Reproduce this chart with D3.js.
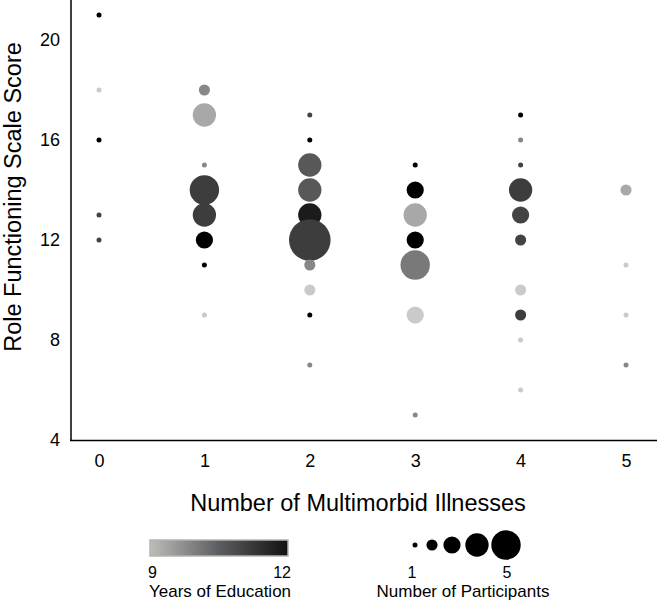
<!DOCTYPE html>
<html>
<head>
<meta charset="utf-8">
<script src="https://cdn.jsdelivr.net/npm/d3@7"></script>
<style>
  body { margin: 0; background: #fff; }
  text { font-family: "Liberation Sans", Arial, sans-serif; fill: #000; }
</style>
</head>
<body>
<script>
var width = 657,
  height = 602;

// one entry per bubble, drawn from high score to low score
const illnesses = [0, 0, 0, 0, 0,
  1, 1, 1, 1, 1, 1, 1, 1,
  2, 2, 2, 2, 2, 2, 2, 2, 2, 2,
  3, 3, 3, 3, 3, 3, 3,
  4, 4, 4, 4, 4, 4, 4, 4, 4, 4,
  5, 5, 5, 5];
const scores = [21, 18, 16, 13, 12,
  18, 17, 15, 14, 13, 12, 11, 9,
  17, 16, 15, 14, 13, 12, 11, 10, 9, 7,
  15, 14, 13, 12, 11, 9, 5,
  17, 16, 15, 14, 13, 12, 10, 9, 8, 6,
  14, 11, 9, 7];
const participants = [1, 1, 1, 1, 1,
  2, 4, 1, 5, 4, 3, 1, 1,
  1, 1, 4, 4, 4, 7, 2, 2, 1, 1,
  1, 3, 4, 3, 5, 3, 1,
  1, 1, 1, 4, 3, 2, 2, 2, 1, 1,
  2, 1, 1, 1];
const education = [12, 9, 12, 11, 11,
  10, 9.5, 10, 11.1, 11.1, 12, 12, 9,
  11, 12, 10.7, 10.7, 11.6, 11.1, 10, 9, 12, 10,
  12, 12, 9.5, 12, 10.2, 9, 10,
  12, 10, 11, 11.1, 11, 11, 9, 11.1, 9, 9,
  9.5, 9, 9, 10];

const xTicks = [0, 1, 2, 3, 4, 5];
const yTicks = [4, 8, 12, 16, 20];
const sizeLegend = [1, 2, 3, 4, 5];

const svg = d3
  .select("body")
  .append("svg")
  .attr("width", width)
  .attr("height", height);

const x = d3.scaleLinear().domain([0, 5]).range([99, 626]);
const y = d3.scaleLinear().domain([4, 21.6]).range([440, 0]);
const r = d3.scaleLinear().domain([1, 5]).range([2.5, 14.7]);
const color = d3
  .scaleLinear()
  .domain([9, 12])
  .range(["#cacaca", "#000000"]);

const points = illnesses.map((d, i) => ({
  ill: d,
  score: scores[i],
  n: participants[i],
  edu: education[i],
}));

// axes (lines only, no tick marks)
const xAxis = d3.axisBottom(x).tickValues(xTicks).tickFormat(d3.format("d"))
  .tickSize(0).tickPadding(14);
const yAxis = d3.axisLeft(y).tickValues(yTicks).tickFormat(d3.format("d"))
  .tickSize(0).tickPadding(11);

svg
  .append("g")
  .attr("transform", "translate(0,440)")
  .call(xAxis)
  .call((g) => g.select(".domain").remove())
  .selectAll("text")
  .style("font-size", "18px")
  .attr("font-family", null);

svg
  .append("g")
  .attr("transform", "translate(71,0)")
  .call(yAxis)
  .call((g) => g.select(".domain").remove())
  .selectAll("text")
  .style("font-size", "18px")
  .attr("font-family", null);

svg.append("line")
  .attr("x1", 71).attr("x2", 71)
  .attr("y1", 0).attr("y2", 441)
  .attr("stroke", "#000").attr("stroke-width", 1.5);
svg.append("line")
  .attr("x1", 70).attr("x2", width)
  .attr("y1", 440.5).attr("y2", 440.5)
  .attr("stroke", "#000").attr("stroke-width", 1.5);

svg
  .append("text")
  .attr("x", 358)
  .attr("y", 511)
  .attr("text-anchor", "middle")
  .style("font-size", "23.5px")
  .text("Number of Multimorbid Illnesses");

svg
  .append("text")
  .attr("transform", "translate(21,197) rotate(-90)")
  .attr("text-anchor", "middle")
  .style("font-size", "23.5px")
  .text("Role Functioning Scale Score");

svg
  .append("g")
  .selectAll("circle")
  .data(points)
  .enter()
  .append("circle")
  .attr("cx", (d) => x(d.ill))
  .attr("cy", (d) => y(d.score))
  .attr("r", (d) => r(d.n))
  .attr("fill", (d) => color(d.edu));

// colour legend
const defs = svg.append("defs");
const grad = defs
  .append("linearGradient")
  .attr("id", "eduGrad")
  .attr("x1", "0%")
  .attr("x2", "100%");
grad.append("stop").attr("offset", "0%").attr("stop-color", "#bdbdb8");
grad.append("stop").attr("offset", "50%").attr("stop-color", "#5c5d60");
grad.append("stop").attr("offset", "100%").attr("stop-color", "#111111");

svg
  .append("rect")
  .attr("x", 150)
  .attr("y", 540)
  .attr("width", 138)
  .attr("height", 16)
  .attr("fill", "url(#eduGrad)")
  .attr("stroke", "#b4b4ae")
  .attr("stroke-width", 1.5);

svg.append("text").attr("x", 148).attr("y", 578)
  .style("font-size", "16px").text("9");
svg.append("text").attr("x", 291).attr("y", 578)
  .attr("text-anchor", "end").style("font-size", "16px").text("12");
svg.append("text").attr("x", 220).attr("y", 597)
  .attr("text-anchor", "middle").style("font-size", "17px")
  .text("Years of Education");

// size legend
const legX = [415, 432, 452, 477, 506];
svg
  .append("g")
  .selectAll("circle")
  .data(sizeLegend)
  .enter()
  .append("circle")
  .attr("cx", (d, i) => legX[i])
  .attr("cy", 545)
  .attr("r", (d) => r(d))
  .attr("fill", "#000");

svg.append("text").attr("x", 412).attr("y", 578)
  .attr("text-anchor", "middle").style("font-size", "16px").text("1");
svg.append("text").attr("x", 507).attr("y", 578)
  .attr("text-anchor", "middle").style("font-size", "16px").text("5");
svg.append("text").attr("x", 463).attr("y", 597)
  .attr("text-anchor", "middle").style("font-size", "17px")
  .text("Number of Participants");
</script>
</body>
</html>
